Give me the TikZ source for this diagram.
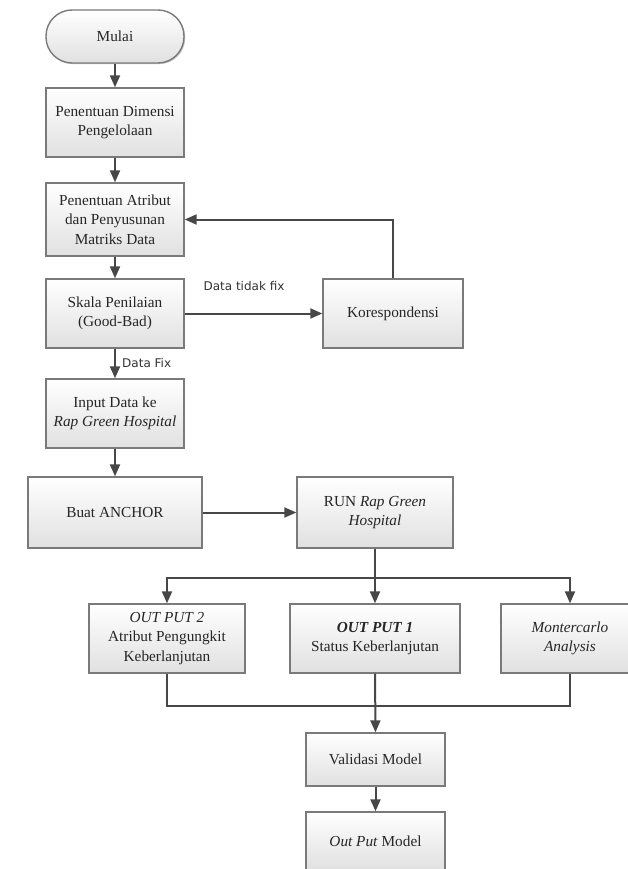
\documentclass[tikz,border=0pt]{standalone}
\usepackage{fontspec}
\setmainfont{Liberation Serif}
\newfontfamily\lblfont{DejaVu Sans}
\usetikzlibrary{arrows.meta,shadows}
\begin{document}
\begin{tikzpicture}[x=1pt,y=-1pt,
  boxstyle/.style={draw=black!52, line width=1.4pt, top color=white, bottom color=black!12,
    align=center, font=\fontsize{15.3}{19.5}\selectfont, inner sep=0pt, text=black!85,
    drop shadow={shadow xshift=1.2pt, shadow yshift=-1.2pt, opacity=0.22, fill=black}},
  conn/.style={draw=black!72, line width=2pt, -{Triangle[length=12pt,width=10pt]}},
  plainline/.style={draw=black!72, line width=2pt},
  lbl/.style={font=\lblfont\fontsize{12}{14}\selectfont, text=black!80, inner sep=1pt}
]
\useasboundingbox (0,0) rectangle (628,869);
\clip (0,0) rectangle (628,869);
\fill[white] (0,0) rectangle (628,869);

\node[boxstyle, rounded corners=26pt, minimum width=138pt, minimum height=53pt] (mulai) at (115,36.5) {Mulai};
\node[boxstyle, minimum width=138pt, minimum height=69pt] (dim) at (115,122.5) {Penentuan Dimensi\\Pengelolaan};
\node[boxstyle, minimum width=138pt, minimum height=73pt] (atr) at (115,219.5) {Penentuan Atribut\\dan Penyusunan\\Matriks Data};
\node[boxstyle, minimum width=138pt, minimum height=69pt] (skala) at (115,313.5) {Skala Penilaian\\(Good-Bad)};
\node[boxstyle, minimum width=140pt, minimum height=69pt] (kor) at (393,313.5) {Korespondensi};
\node[boxstyle, minimum width=138pt, minimum height=69pt] (input) at (115,413.5) {Input Data ke\\\textit{Rap Green Hospital}};
\node[boxstyle, minimum width=174pt, minimum height=71pt] (buat) at (115,512.5) {Buat ANCHOR};
\node[boxstyle, minimum width=156pt, minimum height=71pt] (run) at (375,512.5) {RUN \textit{Rap Green}\\\textit{Hospital}};
\node[boxstyle, minimum width=156pt, minimum height=69pt] (out2) at (167,638.5) {\textit{OUT PUT 2}\\Atribut Pengungkit\\Keberlanjutan};
\node[boxstyle, minimum width=170pt, minimum height=69pt] (out1) at (375,638.5) {\textbf{\textit{OUT PUT 1}}\\Status Keberlanjutan};
\node[boxstyle, minimum width=138pt, minimum height=69pt] (monte) at (570,638.5) {\textit{Montercarlo}\\\textit{Analysis}};
\node[boxstyle, minimum width=139pt, minimum height=53pt] (val) at (375.5,759.5) {Validasi Model};
\node[boxstyle, minimum width=139pt, minimum height=58pt] (outm) at (375.5,841) {\textit{Out Put} Model};

\draw[conn] (mulai) -- (dim);
\draw[conn] (dim) -- (atr);
\draw[conn] (atr) -- (skala);
\draw[conn] (skala) -- (kor);
\draw[conn] (kor.north) |- (atr.east);
\draw[conn] (skala) -- (input);
\draw[conn] (input) -- (buat);
\draw[conn] (buat) -- (run);

\coordinate (split) at (375,578);
\draw[plainline] (run.south) -- (split);
\draw[conn] (split) -| (out2.north);
\draw[conn] (split) -- (out1.north);
\draw[conn] (split) -| (monte.north);

\coordinate (join) at (375,706);
\draw[plainline] (out2.south) |- (join);
\draw[plainline] (monte.south) |- (join);
\draw[conn] (out1.south) -- (val.north);
\draw[conn] (val) -- (outm);

\node[lbl] (ltf) at (244,286) {Data tidak fix};
\node[lbl, anchor=west] (lfx) at (121,363) {Data Fix};
\end{tikzpicture}
\end{document}
